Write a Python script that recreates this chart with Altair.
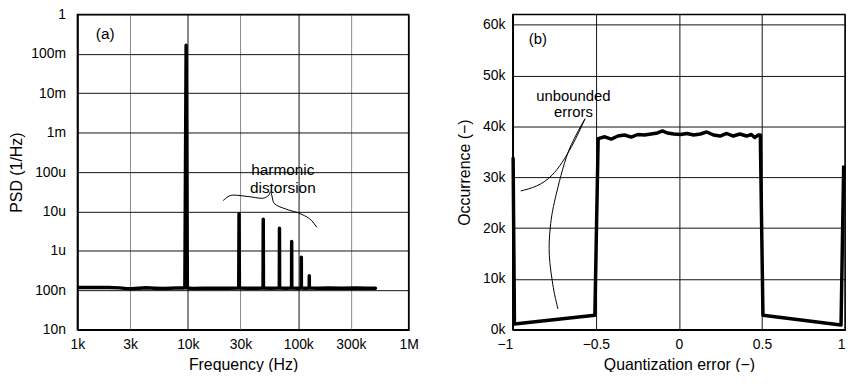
import altair as alt
import pandas as pd

# ---------------- panel (a): PSD ----------------
freq_hz = [1000, 1400, 1900, 2400, 2800, 3100, 3600, 4200, 5000, 6000,
           7000, 8000, 9000, 9400, 9650, 9900, 11000, 14000, 18000, 23000,
           28900, 29100, 29300, 35000, 42000, 48000, 48200, 48400, 56000, 67400,
           67600, 67800, 77000, 87000, 87200, 87400, 97000, 106400, 106600, 106800,
           116000, 125700, 125900, 126100, 150000, 190000, 250000, 330000, 420000, 500000]
psd_val = [118e-9, 118e-9, 118e-9, 116e-9, 111e-9, 110e-9, 113e-9, 117e-9, 114e-9, 112e-9,
           114e-9, 116e-9, 115e-9, 116e-9, 0.165, 115e-9, 112e-9, 114e-9, 113e-9, 114e-9,
           115e-9, 8.8e-6, 115e-9, 113e-9, 114e-9, 115e-9, 6.4e-6, 115e-9, 114e-9, 115e-9,
           3.77e-6, 115e-9, 114e-9, 115e-9, 1.74e-6, 115e-9, 114e-9, 115e-9, 0.69e-6, 115e-9,
           114e-9, 115e-9, 0.237e-6, 115e-9, 114e-9, 115e-9, 114e-9, 115e-9, 114e-9, 114e-9]

brace_freq = [20900, 25400, 35900, 47200, 54200, 56100, 60100, 76600, 108000, 132800, 147300]
brace_psd = [1.91e-5, 2.62e-5, 2.39e-5, 2.17e-5, 2.62e-5, 3.18e-5, 1.64e-5, 1.17e-5, 8.47e-6, 5.83e-6, 3.99e-6]

a_text = ["(a)", "harmonic\ndistorsion"]
a_text_freq = [1785, 72500]
a_text_psd = [0.31, 1.12e-4]

psd_y_ticks = [1e-8, 1e-7, 1e-6, 1e-5, 1e-4, 1e-3, 1e-2, 1e-1, 1]
freq_x_ticks = [1000, 3000, 10000, 30000, 100000, 300000, 1000000]

# ---------------- panel (b): histogram ----------------
err_x = [-0.998, -0.990, -0.506, -0.486, -0.446, -0.407, -0.367, -0.327, -0.287, -0.248,
         -0.208, -0.168, -0.129, -0.099, -0.070, -0.030, 0.010, 0.049, 0.089, 0.129,
         0.168, 0.208, 0.248, 0.288, 0.327, 0.367, 0.407, 0.436, 0.456, 0.476,
         0.490, 0.506, 0.976, 0.992]
occ = [33900, 1140, 2850, 37600, 37950, 37500, 38100, 38300, 37900, 38400,
       38300, 38500, 38700, 39100, 38700, 38500, 38400, 38600, 38300, 38500,
       38900, 38300, 38100, 38600, 38100, 38500, 38100, 38400, 37800, 38300,
       38300, 2850, 950, 32300]

curve1_x = [-0.565, -0.645, -0.764, -0.952]
curve1_y = [41500, 36100, 30400, 27300]
curve2_x = [-0.565, -0.667, -0.744, -0.774, -0.780, -0.756, -0.728]
curve2_y = [41500, 34900, 25900, 20200, 14600, 8300, 4100]

b_text = ["(b)", "unbounded\nerrors"]
b_text_x = [-0.849, -0.635]
b_text_y = [57200, 45900]

occ_y_ticks = [0, 10000, 20000, 30000, 40000, 50000, 60000]
err_x_ticks = [-1, -0.5, 0, 0.5, 1]

FONT = "Liberation Sans"
W1, W2, H = 334, 335, 318

# ---------- build (a) ----------
df_psd = pd.DataFrame({"f": freq_hz, "p": psd_val, "i": range(len(freq_hz))})
df_brace = pd.DataFrame({"f": brace_freq, "p": brace_psd, "i": range(len(brace_freq))})
df_at = pd.DataFrame({"f": a_text_freq, "p": a_text_psd, "t": a_text})

xa = alt.X("f:Q", scale=alt.Scale(type="log", domain=[1000, 1000000], nice=False),
           axis=alt.Axis(title="Frequency (Hz)", values=freq_x_ticks, format="~s",
                         labelFlush=False, ticks=False, labelPadding=8, titlePadding=5,
                         gridColor={"condition": {"test": "substring(format(datum.value,'~s'),0,1)=='3'",
                                                  "value": "#8a8a8a"}, "value": "#111"}))
ya = alt.Y("p:Q", scale=alt.Scale(type="log", domain=[1e-8, 1], nice=False),
           axis=alt.Axis(title="PSD (1/Hz)", values=psd_y_ticks,
                         labelExpr="replace(format(datum.value,'~s'),'µ','u')",
                         ticks=False, labelPadding=12, titlePadding=6))

psd_line = alt.Chart(df_psd).mark_line(color="black", strokeWidth=3.5, strokeCap="round",
                                       strokeJoin="round", clip=True).encode(x=xa, y=ya, order="i:Q")
brace = alt.Chart(df_brace).mark_line(color="black", strokeWidth=1, interpolate="monotone").encode(
    x="f:Q", y="p:Q", order="i:Q")
a_txt = alt.Chart(df_at).mark_text(font=FONT, fontSize=15.5, align="center", baseline="middle",
                                   lineBreak="\n", lineHeight=18,
                                   color="black").encode(x="f:Q", y="p:Q", text="t:N")
left = alt.layer(psd_line, brace, a_txt).properties(width=W1, height=H)

# ---------- build (b) ----------
df_occ = pd.DataFrame({"e": err_x, "o": occ, "i": range(len(err_x))})
df_c1 = pd.DataFrame({"e": curve1_x, "o": curve1_y, "i": range(len(curve1_x))})
df_c2 = pd.DataFrame({"e": curve2_x, "o": curve2_y, "i": range(len(curve2_x))})
df_bt = pd.DataFrame({"e": b_text_x, "o": b_text_y, "t": b_text})

xb = alt.X("e:Q", scale=alt.Scale(domain=[-1, 1], nice=False),
           axis=alt.Axis(title="Quantization error (−)", values=err_x_ticks, format="~g",
                         labelFlush=False, ticks=False, labelPadding=8, titlePadding=5,
                         labelAlign={"condition": {"test": "abs(datum.value) == 1", "value": "right"},
                                     "value": "center"}))
yb = alt.Y("o:Q", scale=alt.Scale(domain=[0, 62000], nice=False),
           axis=alt.Axis(title="Occurrence (−)", values=occ_y_ticks, format="~s",
                         ticks=False, labelPadding=8, titlePadding=10))

occ_line = alt.Chart(df_occ).mark_line(color="black", strokeWidth=3.5, strokeJoin="round").encode(
    x=xb, y=yb, order="i:Q")
c1 = alt.Chart(df_c1).mark_line(color="black", strokeWidth=1, interpolate="monotone").encode(
    x="e:Q", y="o:Q", order="i:Q")
c2 = alt.Chart(df_c2).mark_line(color="black", strokeWidth=1, interpolate="cardinal").encode(
    x="e:Q", y="o:Q", order="i:Q")
b_txt = alt.Chart(df_bt).mark_text(font=FONT, fontSize=15, align="center", baseline="middle",
                                   lineBreak="\n", lineHeight=16,
                                   color="black").encode(x="e:Q", y="o:Q", text="t:N")
right = alt.layer(occ_line, c1, c2, b_txt).properties(width=W2, height=H)

chart = alt.hconcat(left, right, spacing=105, bounds="flush").properties(
    padding={"left": 0, "top": -3, "right": 0, "bottom": -3},
).configure(font=FONT).configure_view(stroke="black", strokeWidth=1.5).configure_axis(
    grid=True, gridColor="#111", gridWidth=1, gridOpacity=1,
    domainColor="black", domainWidth=1.5,
    labelFont=FONT, labelFontSize=14, labelColor="black",
    titleFont=FONT, titleFontSize=16, titleFontWeight="normal", titleColor="black",
)

chart.save("out.html", embed_options={"renderer": "svg", "actions": False})
